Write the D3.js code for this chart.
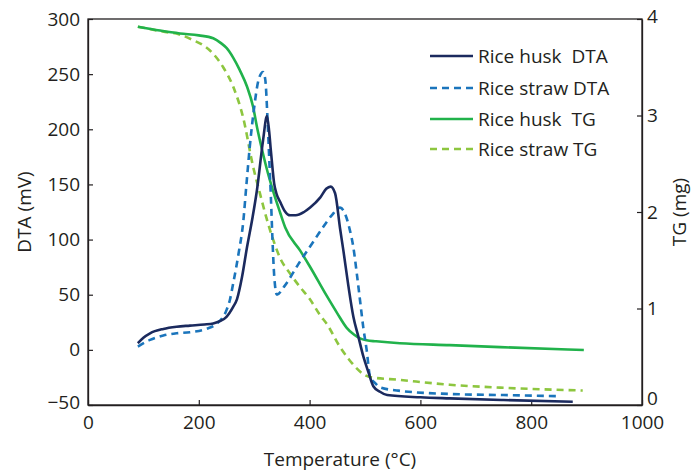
<!DOCTYPE html>
<html><head><meta charset="utf-8">
<script src="https://cdn.jsdelivr.net/npm/d3@7"></script>
<style>
body{margin:0;background:#fff;}
text{font-family:"Open Sans","Noto Sans",sans-serif;fill:#231f20;}
</style></head>
<body><svg id="c" width="691" height="472"></svg>
<script>
const xTicks=[0,200,400,600,800,1000];
const dtaTicks=[-50,0,50,100,150,200,250,300];
const tgTicks=[0,1,2,3,4];
const seriesNames=["Rice husk  DTA","Rice straw DTA","Rice husk  TG","Rice straw TG"];

const huskDTA_T=[90,100,112,136,160,184,210,226,238,250,262,269,278,287,297,305,316,323,327,330,333,336,340,347,355,365,375,390,401,419,430,438,446,455,461,470,479,488,497,506,515,527,540,600,653,750,875];
const huskDTA_V=[6,11,15,19,21,22,23,24,26,30,39,46,66,93,120,145,190,212,198,181,165,151,142,134,126,122,122,125,129,138,146,148,142,110,90,58,30,12,-6,-20,-33,-38,-41,-43,-44,-45.5,-47];

const strawDTA_T=[90,112,136,160,184,214,233,250,256,262,272,280,286,292,300,308,316,320,324,327,330,333,336,341,355,380,400,420,440,455,465,472,479,485,491,497,503,509,518,527,560,653,750,852];
const strawDTA_V=[3,9,13,15,16,19,24,36,45,60,88,115,150,184,220,245,252,245,210,175,140,100,68,50,58,78,93,108,122,129,122,110,93,70,45,20,0,-24,-30,-34,-37,-40,-41,-42];

const huskTG_T=[90,130,166,200,226,240,250,262,274,287,298,305,314,323,335,347,356,383,401,431,450,467,480,491,503,520,563,653,744,895];
const huskTG_V=[3.92,3.88,3.85,3.83,3.80,3.75,3.70,3.60,3.47,3.30,3.09,2.88,2.65,2.44,2.20,1.99,1.84,1.60,1.43,1.13,0.95,0.80,0.73,0.69,0.67,0.66,0.64,0.62,0.60,0.57];

const strawTG_T=[90,135,165,190,210,226,244,262,280,298,310,323,335,347,365,383,400,419,431,455,470,485,497,509,563,653,744,893];
const strawTG_V=[3.92,3.87,3.84,3.78,3.72,3.64,3.50,3.30,2.98,2.47,2.20,1.92,1.70,1.52,1.36,1.22,1.10,0.93,0.84,0.60,0.48,0.38,0.32,0.29,0.26,0.21,0.18,0.15];

const L=88,R=642,T=19,B=405;
const svg=d3.select("#c");
const x=d3.scaleLinear().domain([0,1000]).range([L,R]);
const yD=d3.scaleLinear().domain([-50,300]).range([B,T]);
const yT=d3.scaleLinear().domain([0,4]).range([B,T]);

const fs=19;
svg.append("rect").attr("x",L).attr("y",T).attr("width",R-L).attr("height",B-T)
  .attr("fill","none").attr("stroke","#231f20").attr("stroke-width",1.3);

const ax=svg.append("g").attr("transform",`translate(0,${B})`)
  .call(d3.axisBottom(x).tickValues(xTicks).tickSizeInner(-5).tickSizeOuter(0).tickPadding(10).tickFormat(d3.format("d")));
const ayl=svg.append("g").attr("transform",`translate(${L},0)`)
  .call(d3.axisLeft(yD).tickValues(dtaTicks).tickSizeInner(-5).tickSizeOuter(0).tickPadding(8).tickFormat(d=>d<0?"\u2212"+Math.abs(d):d));
const ayr=svg.append("g").attr("transform",`translate(${R},0)`)
  .call(d3.axisRight(yT).tickValues(tgTicks).tickSizeInner(-5).tickSizeOuter(0).tickPadding(5).tickFormat(d3.format("d")));
[ax,ayl,ayr].forEach(g=>{
  g.attr("font-size",fs).attr("font-family",null);
  g.select(".domain").attr("stroke","#231f20").attr("stroke-width",1.3);
  g.selectAll(".tick line").attr("stroke","#231f20").attr("stroke-width",1.2);
  g.selectAll(".tick text").attr("font-size",fs).style("fill","#231f20");
});
ayl.select(".tick:first-of-type text").attr("dy","0.2em");
ayr.select(".tick:first-of-type text").attr("dy","-0.05em");
ayr.select(".tick:last-of-type text").attr("dy","0.2em");
ax.selectAll(".tick text").attr("dy","0.75em");

svg.append("text").attr("x",340).attr("y",466).attr("text-anchor","middle").attr("font-size",fs).text("Temperature (°C)");
svg.append("text").attr("transform","translate(31,212) rotate(-90)").attr("text-anchor","middle").attr("font-size",fs).text("DTA (mV)");
svg.append("text").attr("transform","translate(686,212) rotate(-90)").attr("text-anchor","middle").attr("font-size",fs).text("TG (mg)");

const colors=["#1b2a5e","#1b75bc","#21b24b","#8dc63f"];
const dashes=[null,"7,5",null,"7,5"];
const data=[
  {t:huskDTA_T,v:huskDTA_V,y:yD},
  {t:strawDTA_T,v:strawDTA_V,y:yD},
  {t:huskTG_T,v:huskTG_V,y:yT},
  {t:strawTG_T,v:strawTG_V,y:yT}
];
[3,2,1,0].forEach(i=>{
  const s=data[i];
  const pts=s.t.map((t,k)=>[t,s.v[k]]);
  const line=d3.line().x(d=>x(d[0])).y(d=>s.y(d[1])).curve(d3.curveMonotoneX);
  svg.append("path").attr("d",line(pts)).attr("fill","none").attr("stroke",colors[i])
    .attr("stroke-width",2.6).attr("stroke-dasharray",dashes[i]);
});

const ly=[56,88,119,149];
seriesNames.forEach((n,i)=>{
  svg.append("line").attr("x1",430).attr("x2",473).attr("y1",ly[i]).attr("y2",ly[i])
    .attr("stroke",colors[i]).attr("stroke-width",2.6).attr("stroke-dasharray",dashes[i]);
  svg.append("text").attr("x",478).attr("y",ly[i]).attr("dy","0.35em").attr("font-size",fs)
    .style("white-space","pre").attr("xml:space","preserve").text(n);
});
</script></body></html>
